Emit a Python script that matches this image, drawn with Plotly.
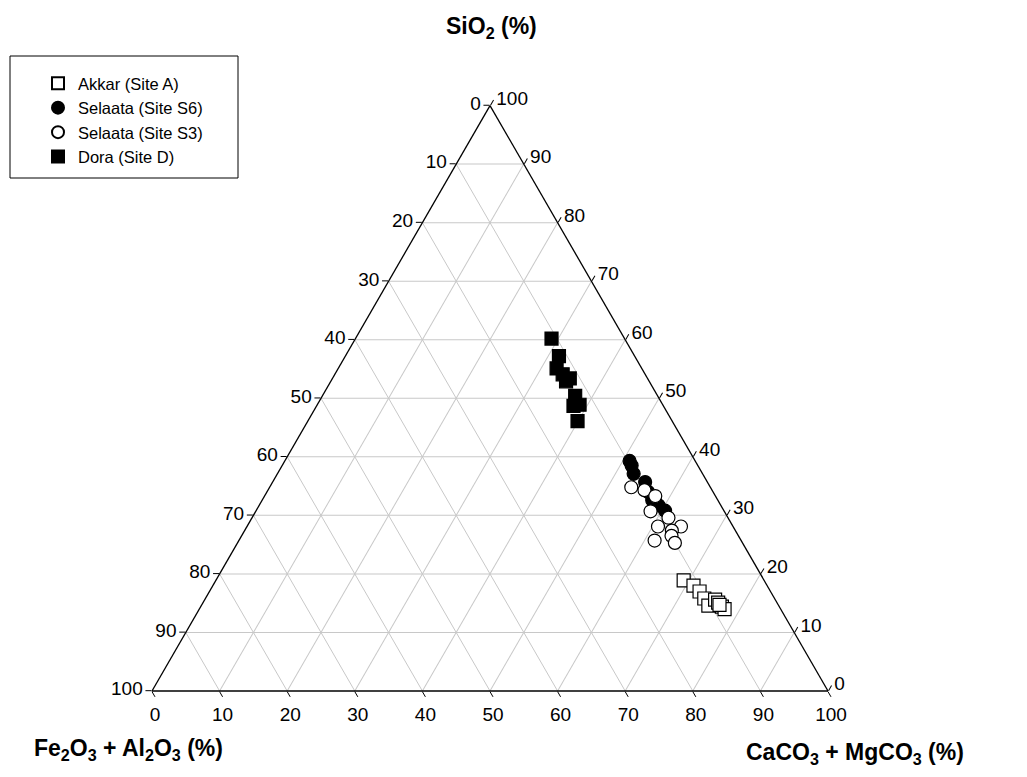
import plotly.graph_objects as go

# Data: SiO2 (a), Fe2O3+Al2O3 (b), CaCO3+MgCO3 (c), in %
akkar_sio2 = [18.9, 18.0, 17.0, 15.8, 14.6, 15.6, 15.1, 14.4, 14.0, 14.7]
akkar_fe = [11.9, 10.9, 10.5, 10.4, 10.4, 8.9, 8.7, 8.5, 8.3, 8.7]
akkar_ca = [69.2, 71.1, 72.5, 73.8, 75.0, 75.5, 76.2, 77.1, 77.7, 76.6]

s6_sio2 = [39.3, 38.5, 37.1, 35.7, 34.0, 32.6, 31.7, 30.8]
s6_fe = [9.7, 9.8, 10.2, 9.2, 9.6, 9.7, 9.2, 8.7]
s6_ca = [51.0, 51.7, 52.7, 55.1, 56.4, 57.7, 59.1, 60.5]

s3_sio2 = [34.8, 34.3, 33.3, 30.7, 29.6, 28.1, 28.1, 27.4, 26.5, 25.7, 25.3]
s3_fe = [11.7, 10.0, 8.9, 10.9, 8.8, 11.1, 7.7, 9.4, 9.9, 12.8, 10.0]
s3_ca = [53.5, 55.7, 57.8, 58.4, 61.6, 60.8, 64.2, 63.2, 63.6, 61.5, 64.7]

dora_sio2 = [60.2, 57.2, 55.1, 54.1, 53.4, 52.9, 50.4, 48.7, 48.9, 46.1]
dora_fe = [10.8, 11.2, 12.6, 12.2, 11.5, 12.3, 12.2, 13.3, 12.3, 14.0]
dora_ca = [29.0, 31.6, 32.3, 33.7, 35.1, 34.8, 37.4, 38.0, 38.8, 39.9]

tick_vals = list(range(0, 101, 10))
tick_text = [str(100 - v) for v in tick_vals]

FONT = "Arial, Liberation Sans, sans-serif"

# page has an 8px body margin; size the figure so the page is exactly 1027x777
OFF = 8
W, H = 1027 - 2 * OFF, 777 - 2 * OFF


def px(x):
    return (x - OFF) / W


def py(y):
    return 1 - (y - OFF) / H


fig = go.Figure()


def add(name, a, b, c, symbol, fill):
    fig.add_trace(go.Scatterternary(
        a=a, b=b, c=c, mode="markers", name=name,
        marker=dict(symbol=symbol, size=13, color=fill,
                    line=dict(color="black", width=1.2)),
    ))


add("Akkar (Site A)", akkar_sio2, akkar_fe, akkar_ca, "square", "white")
add("Selaata (Site S6)", s6_sio2, s6_fe, s6_ca, "circle", "black")
add("Selaata (Site S3)", s3_sio2, s3_fe, s3_ca, "circle", "white")
add("Dora (Site D)", dora_sio2, dora_fe, dora_ca, "square", "black")

left, right, bottom = 152, 828, 691
tri_h = (right - left) * 3 ** 0.5 / 2
top = bottom - tri_h

axis_common = dict(
    tickmode="array", tickvals=tick_vals, ticktext=tick_text,
    ticks="outside", ticklen=6, tickcolor="black", tickwidth=1,
    showgrid=True, gridcolor="#c8c8c8", gridwidth=1,
    linecolor="black", linewidth=1.3,
    tickfont=dict(family=FONT, size=19, color="black"),
    title=dict(text=""),
    min=0,
)

fig.update_layout(
    width=W, height=H,
    margin=dict(l=0, r=0, t=0, b=0),
    paper_bgcolor="white",
    font=dict(family=FONT, color="black"),
    ternary=dict(
        sum=100,
        bgcolor="white",
        domain=dict(x=[px(left), px(right)], y=[py(bottom), py(top)]),
        aaxis=axis_common,
        baxis=axis_common,
        caxis=axis_common,
    ),
    showlegend=True,
    legend=dict(
        x=px(38), y=py(66), xanchor="left", yanchor="top",
        bgcolor="rgba(0,0,0,0)", borderwidth=0,
        font=dict(family=FONT, size=16.5, color="black"),
        itemsizing="constant",
    ),
    shapes=[dict(type="rect", xref="paper", yref="paper",
                 x0=px(10), x1=px(238), y0=py(178), y1=py(56),
                 line=dict(color="black", width=1), fillcolor="rgba(0,0,0,0)")],
    annotations=[
        dict(text="<b>SiO<sub>2</sub> (%)</b>", x=px(491), y=py(28),
             xanchor="center", yanchor="middle",
             xref="paper", yref="paper", showarrow=False,
             font=dict(family=FONT, size=23, color="black")),
        dict(text="<b>Fe<sub>2</sub>O<sub>3</sub> + Al<sub>2</sub>O<sub>3</sub> (%)</b>",
             x=px(128), y=py(749), xanchor="center", yanchor="middle",
             xref="paper", yref="paper", showarrow=False,
             font=dict(family=FONT, size=23, color="black")),
        dict(text="<b>CaCO<sub>3</sub> + MgCO<sub>3</sub> (%)</b>",
             x=px(855), y=py(753), xanchor="center", yanchor="middle",
             xref="paper", yref="paper", showarrow=False,
             font=dict(family=FONT, size=23, color="black")),
    ],
)

fig.write_html("out.html")
